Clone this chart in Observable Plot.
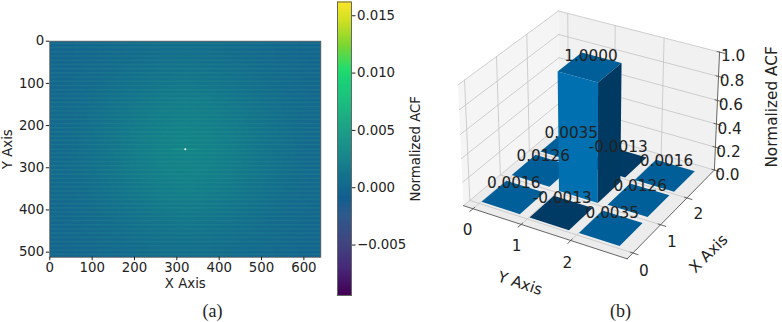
<!DOCTYPE html>
<html><head><meta charset="utf-8">
<script src="https://cdn.jsdelivr.net/npm/d3@7"></script>
<script src="https://cdn.jsdelivr.net/npm/@observablehq/plot@0.6"></script>
<style>
html,body{margin:0;padding:0;background:#fff}
#root{position:relative;width:782px;height:322px;overflow:hidden}
#root>*{position:absolute}
.cap{font:18px "Liberation Serif";color:#222;transform:translateX(-50%)}
</style></head><body><div id="root"></div>
<script>
// ---------- data ----------
const colorStops  = [-0.0094,-0.007,-0.005,-0.0025,-0.001,0,0.0025,0.005,0.0075,0.0093,0.0103,0.0125,0.0145,0.0162];
const colorValues = ["#440154","#472a7a","#41447f","#2f5a8c","#135f90","#14698e","#14828a","#109a80","#08b874","#00cc66","#08d85a","#70d010","#c8da00","#fde300"];
const fieldCols = 11, fieldRows = 9;
const acfField = [
 -.3,-.1, .1, .3, .5, .6, .5, .3, .1,-.1,-.3,
 -.1, .1, .4, .8,1.1,1.3,1.1, .8, .4, .1,-.1,
  .0, .3, .8,1.3,1.8,2.0,1.8,1.3, .8, .3, .0,
  .1, .5,1.1,1.7,2.2,2.5,2.2,1.7,1.1, .5, .1,
  .1, .6,1.2,1.9,2.5,2.8,2.5,1.9,1.2, .6, .1,
  .1, .5,1.1,1.7,2.2,2.5,2.2,1.7,1.1, .5, .1,
  .0, .3, .8,1.3,1.8,2.0,1.8,1.3, .8, .3, .0,
 -.1, .1, .4, .8,1.1,1.3,1.1, .8, .4, .1,-.1,
 -.3,-.1, .1, .3, .5, .6, .5, .3, .1,-.1,-.3
];
const stripeRows = [5,15,25,35,45,55,65,75,85,95,105,115,125,135,145,155,165,175,185,195,205,215,225,235,245,256,265,275,285,295,305,315,325,335,345,355,365,375,385,395,405,415,425,435,445,455,465,475,485,495,505];
const peak = [{x:320,y:256}];
const heatTicksX = [0,100,200,300,400,500,600];
const heatTicksY = [0,100,200,300,400,500];
const barTicks = [-0.005,0,0.005,0.010,0.015];

const barLags = [0,1,2];
const barValues = [ // [x index, y index, value, label]
 [0,2,0.0035,"0.0035"],[1,2,-0.0013,"-0.0013"],[2,2,0.0016,"0.0016"],
 [0,1,0.0126,"0.0126"],[1,1,1,"1.0000"],[2,1,0.0126,"0.0126"],
 [0,0,0.0016,"0.0016"],[1,0,-0.0013,"-0.0013"],[2,0,0.0035,"0.0035"]
];
const zTicks = [0,0.2,0.4,0.6,0.8,1];

const font = "DejaVu Sans";
const root = document.getElementById("root");
const place = (el,l,t)=>{el.style.left=l+"px";el.style.top=t+"px";root.appendChild(el);};
const colorScale = {type:"linear",domain:colorStops,range:colorValues,interpolate:"rgb"};

// ---------- (a) heat map ----------
place(Plot.plot({
  width:340,height:290,marginLeft:49.3,marginRight:19.7,marginTop:40.7,marginBottom:33.3,
  style:{fontFamily:font,fontSize:"13.3px",background:"transparent",color:"#222"},
  x:{domain:[0,640]},y:{domain:[512,0]},color:colorScale,
  marks:[
    Plot.raster(acfField.map(d=>d/1000),{width:fieldCols,height:fieldRows,x1:0,x2:640,y1:0,y2:512,fill:d=>d}),
    Plot.ruleY(stripeRows,{stroke:"#35b08a",strokeOpacity:0.15,strokeWidth:1.6}),
    Plot.ruleY(peak,{y:"y",x1:d=>d.x-30,x2:d=>d.x+30,stroke:"#20b080",strokeOpacity:0.4,strokeWidth:1}),
    Plot.dot(peak,{x:"x",y:"y",r:1,fill:"#fff"}),
    Plot.frame({stroke:"#555",strokeWidth:0.8}),
    Plot.axisX({ticks:heatTicksX,tickSize:3.5,tickPadding:2,label:"X Axis",labelAnchor:"center",labelArrow:"none",labelOffset:31}),
    Plot.axisY({ticks:heatTicksY,tickSize:3.5,tickPadding:2,label:"Y Axis",labelAnchor:"center",labelArrow:"none",labelOffset:47,tickFormat:d=>String(d)})
  ]
}),0,0);

// ---------- colour bar ----------
const cbDomain=[colorStops[0],colorStops[colorStops.length-1]];
const cbStep=(cbDomain[1]-cbDomain[0])/294;
place(Plot.plot({
  width:100,height:322,marginLeft:7,marginRight:79,marginTop:1.5,marginBottom:27,
  style:{fontFamily:font,fontSize:"13.3px",background:"transparent",color:"#222"},
  x:{domain:[0,1],axis:null},y:{domain:cbDomain},color:colorScale,
  marks:[
    Plot.rect(d3.range(294).map(i=>cbDomain[0]+i*cbStep),{x1:0,x2:1,y1:d=>d,y2:d=>d+cbStep*1.2,fill:d=>d}),
    Plot.frame({stroke:"#666",strokeWidth:1}),
    Plot.axisY({anchor:"right",ticks:barTicks,tickSize:3.5,tickPadding:2,tickFormat:d=>d3.format(".3f")(d).replace("-","\u2212"),label:"Normalized ACF",labelAnchor:"center",labelArrow:"none",labelOffset:68})
  ]
}),330,0);

// ---------- (b) 3-D bars, projected as matplotlib's default view ----------
const xlim=[-0.2,3.1], ylim=[-0.2,3.1];
const box=[1.143,1.143,0.84];
const U=[0.866,0.5,0], V=[-0.25,0.433,0.866], N=[0.433,-0.75,0.5];
const dot3=(a,b)=>a[0]*b[0]+a[1]*b[1]+a[2]*b[2];
function proj(x,y,z){
  const p=[((x-xlim[0])/(xlim[1]-xlim[0])-0.5)*box[0],((y-ylim[0])/(ylim[1]-ylim[0])-0.5)*box[1],(z-0.5)*box[2]];
  const d=10-dot3(p,N);
  return {px:dot3(p,U)/d,py:dot3(p,V)/d};
}
const W=352,H=322,S=1640;
const anchor=proj(xlim[1],ylim[0],0);      // nearest floor corner
const cx=590/3-S*anchor.px, cy=775/3+S*anchor.py;

const polys=[];let pid=0;
function poly(pts,fill){const id=pid++;[...pts,pts[0]].forEach(q=>{const r=proj(...q);polys.push({id,fill,x:r.px,y:r.py});});}
// panes
poly([[xlim[0],ylim[0],0],[xlim[1],ylim[0],0],[xlim[1],ylim[1],0],[xlim[0],ylim[1],0]],"#ececec");
poly([[xlim[0],ylim[0],0],[xlim[0],ylim[1],0],[xlim[0],ylim[1],1],[xlim[0],ylim[0],1]],"#f5f5f5");
poly([[xlim[0],ylim[1],0],[xlim[1],ylim[1],0],[xlim[1],ylim[1],1],[xlim[0],ylim[1],1]],"#f1f1f1");

const segs=[];let sid=0;
function seg(a,b,kind){const id=sid++;[a,b].forEach(q=>{const r=proj(...q);segs.push({id,kind,x:r.px,y:r.py});});}
for(const t of barLags){
  seg([t,ylim[0],0],[t,ylim[1],0],"grid");seg([t,ylim[1],0],[t,ylim[1],1],"grid");
  seg([xlim[0],t,0],[xlim[1],t,0],"grid");seg([xlim[0],t,0],[xlim[0],t,1],"grid");
}
for(const z of zTicks){
  seg([xlim[0],ylim[0],z],[xlim[0],ylim[1],z],"grid");seg([xlim[0],ylim[1],z],[xlim[1],ylim[1],z],"grid");
}
seg([xlim[0],ylim[0],0],[xlim[1],ylim[0],0],"axis");
seg([xlim[1],ylim[0],0],[xlim[1],ylim[1],0],"axis");
seg([xlim[1],ylim[1],0],[xlim[1],ylim[1],1],"axis");
for(const t of barLags){
  seg([t,ylim[0]+0.05,0],[t,ylim[0]-0.1,0],"axis");
  seg([xlim[1]-0.05,t,0],[xlim[1]+0.1,t,0],"axis");
}
for(const z of zTicks) seg([xlim[1]-0.05,ylim[1],z],[xlim[1]+0.1,ylim[1],z],"axis");

// bars: painter's order is the order of barValues
for(const [i,j,v] of barValues){
  const x0=i+0.01,x1=i+0.81,y0=j+0.06,y1=j+0.88;
  const negative=v<0;
  poly([[x0,y0,v],[x1,y0,v],[x1,y1,v],[x0,y1,v]],negative?"#003b66":"#005f98");
  if(v>0.1){
    poly([[x0,y0,0],[x1,y0,0],[x1,y0,v],[x0,y0,v]],"#0070b0");
    poly([[x1,y0,0],[x1,y1,0],[x1,y1,v],[x1,y0,v]],"#003a62");
  }
}
const labels=[];
const addLabel=(x,y,z,text,o={})=>{const r=proj(x,y,z);labels.push({x:r.px,y:r.py,text,...o});};
for(const [i,j,v,t] of barValues) addLabel(i+0.44,j+0.46,Math.max(v,0)*0.965+0.13,t);
barLags.forEach(t=>{addLabel(t+0.288,ylim[0]-0.6,0,String(t));addLabel(xlim[1]+0.416,t-0.38,0,String(t));});
zTicks.forEach(z=>addLabel(xlim[1]+0.278,ylim[1]-0.03,z,z.toFixed(1)));

const titles=[
  {p:proj(1.92,ylim[0]-1.5,0),text:"Y Axis",rotate:18},
  {p:proj(xlim[1]+1.115,0.62,0),text:"X Axis",rotate:-45},
  {p:proj(xlim[1]+0.78,ylim[1]+0.676,0.5),text:"Normalized ACF",rotate:-90}
];

place(Plot.plot({
  width:W,height:H,margin:0,
  style:{fontFamily:font,fontSize:"15.3px",background:"transparent"},
  x:{domain:[(0-cx)/S,(W-cx)/S],axis:null},
  y:{domain:[(cy-H)/S,cy/S],axis:null},
  marks:[
    Plot.line(polys.filter(d=>d.id<3),{x:"x",y:"y",z:"id",fill:"fill",stroke:"none"}),
    Plot.line(segs.filter(d=>d.kind==="grid"),{x:"x",y:"y",z:"id",stroke:"#c4c4c4",strokeWidth:0.8}),
    Plot.line(segs.filter(d=>d.kind==="axis"),{x:"x",y:"y",z:"id",stroke:"#555",strokeWidth:0.9}),
    Plot.line(polys.filter(d=>d.id>=3),{x:"x",y:"y",z:"id",fill:"fill",stroke:"none"}),
    Plot.text(labels,{x:"x",y:"y",text:"text",fill:"#222",fontSize:15.3}),
    ...titles.map(t=>Plot.text([t],{x:d=>d.p.px,y:d=>d.p.py,text:"text",rotate:t.rotate,fill:"#222",fontSize:15.3}))
  ]
}),430,0);

// ---------- captions ----------
for(const [t,l] of [["(a)",212.5],["(b)",620.5]]){
  const c=document.createElement("div");c.className="cap";c.textContent=t;c.style.left=l+"px";c.style.top="301px";root.appendChild(c);
}
</script></body></html>
